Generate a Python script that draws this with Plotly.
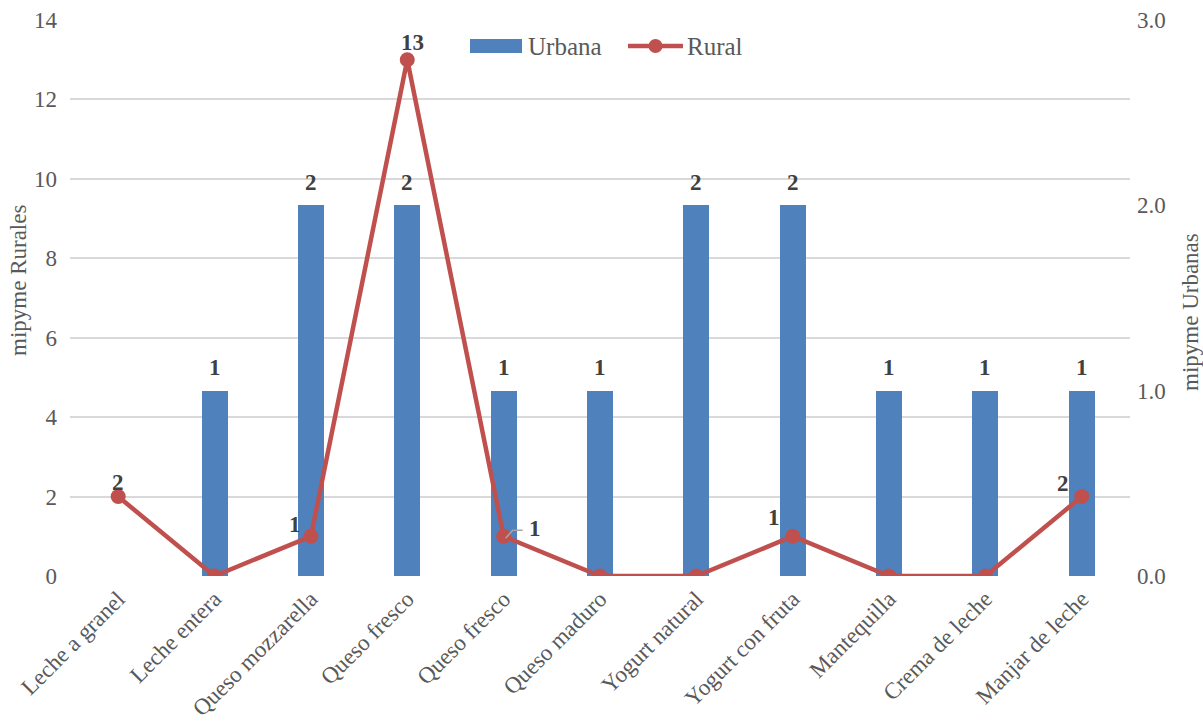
import plotly.graph_objects as go

# Products and counts of businesses per area
productos = ["Leche a granel", "Leche entera", "Queso mozzarella", "Queso fresco",
             "Queso fresco", "Queso maduro", "Yogurt natural", "Yogurt con fruta",
             "Mantequilla", "Crema de leche", "Manjar de leche"]
urbana = [0, 1, 2, 2, 1, 1, 2, 2, 1, 1, 1]
rural = [2, 0, 1, 13, 1, 0, 0, 1, 0, 0, 2]

# pixel offsets (dx, dy) for the rural value labels, relative to each point
rural_label_shift = [(0, 14), (0, 0), (-16, 12), (5, 17), (31, 8), (0, 0),
                     (0, 0), (-19, 19), (0, 0), (0, 0), (-19, 13)]

FONT = "Liberation Serif, Times New Roman, serif"
GRAY = "#595959"
LABEL = "#404040"
BLUE = "#4F81BD"
RED = "#C0504D"

x = list(range(len(productos)))

fig = go.Figure()
fig.add_trace(go.Bar(x=x, y=urbana, name="Urbana", marker_color=BLUE,
                     marker_line_width=0, width=0.27, yaxis="y", showlegend=False))
fig.add_trace(go.Scatter(x=x, y=rural, name="Rural", mode="lines+markers",
                         line=dict(color=RED, width=4.5),
                         marker=dict(color=RED, size=15),
                         yaxis="y2", showlegend=False))

annotations = []
# bar value labels
for i, v in enumerate(urbana):
    if v:
        annotations.append(dict(x=i, y=v, xref="x", yref="y", text=f"<b>{v}</b>",
                                showarrow=False, yshift=23,
                                font=dict(family=FONT, size=23, color=LABEL)))
# line value labels
for i, v in enumerate(rural):
    if v:
        dx, dy = rural_label_shift[i]
        annotations.append(dict(x=i, y=v, xref="x", yref="y2", text=f"<b>{v}</b>",
                                showarrow=False, xshift=dx, yshift=dy,
                                font=dict(family=FONT, size=23, color=LABEL)))

# leader line for the second "Queso fresco" label
shapes = [dict(type="path", xref="x", yref="y2", xsizemode="pixel", ysizemode="pixel",
               xanchor=4, yanchor=rural[4],
               path="M 2 -2 L 9 6 L 19 6", line=dict(color="#A6A6A6", width=1.5))]

# legend drawn in paper coordinates
def px(xp):
    return (xp - 70) / 1060

def py(yp):
    return (576 - yp) / 556

shapes += [
    dict(type="rect", xref="paper", yref="paper", x0=px(470), x1=px(522),
         y0=py(53), y1=py(39), fillcolor=BLUE, line=dict(width=0)),
    dict(type="line", xref="paper", yref="paper", x0=px(628), x1=px(683),
         y0=py(46), y1=py(46), line=dict(color=RED, width=4.5)),
    dict(type="circle", xref="paper", yref="paper", x0=px(648.5), x1=px(662.5),
         y0=py(53), y1=py(39), fillcolor=RED, line=dict(width=0)),
]
annotations += [
    dict(x=px(526), y=py(46), xref="paper", yref="paper", text="Urbana",
         xanchor="left", yanchor="middle", showarrow=False,
         font=dict(family=FONT, size=25, color=GRAY)),
    dict(x=px(685), y=py(46), xref="paper", yref="paper", text="Rural",
         xanchor="left", yanchor="middle", showarrow=False,
         font=dict(family=FONT, size=25, color=GRAY)),
    dict(x=px(18), y=py(281), xref="paper", yref="paper", text="mipyme Rurales",
         textangle=-90, showarrow=False, xanchor="center", yanchor="middle",
         font=dict(family=FONT, size=23, color=GRAY)),
    dict(x=px(1190), y=py(312), xref="paper", yref="paper", text="mipyme Urbanas",
         textangle=-90, showarrow=False, xanchor="center", yanchor="middle",
         font=dict(family=FONT, size=23, color=GRAY)),
]

fig.update_layout(
    width=1203, height=725,
    margin=dict(l=70, r=73, t=20, b=149),
    paper_bgcolor="white", plot_bgcolor="white",
    bargap=0,
    font=dict(family=FONT, color=GRAY, size=23),
    xaxis=dict(range=[-0.5, 10.5], tickmode="array", tickvals=x, ticktext=productos,
               tickangle=-45, showgrid=False, zeroline=False, showline=False,
               ticks="", automargin=False, ticklabelstandoff=4,
               tickfont=dict(size=23, color=GRAY)),
    yaxis=dict(range=[0, 3], dtick=1, tickformat=".1f", side="right",
               showgrid=False, zeroline=False, showline=False,
               ticklabelstandoff=6, automargin=False,
               tickfont=dict(size=23, color=GRAY)),
    yaxis2=dict(range=[0, 14], dtick=2, overlaying="y", side="left",
                showgrid=True, gridcolor="#D9D9D9", gridwidth=1.5,
                zeroline=False, showline=False, ticklabelstandoff=12,
                automargin=False,
                tickfont=dict(size=23, color=GRAY)),
    annotations=annotations,
    shapes=shapes,
)

fig.write_html("out.html")
